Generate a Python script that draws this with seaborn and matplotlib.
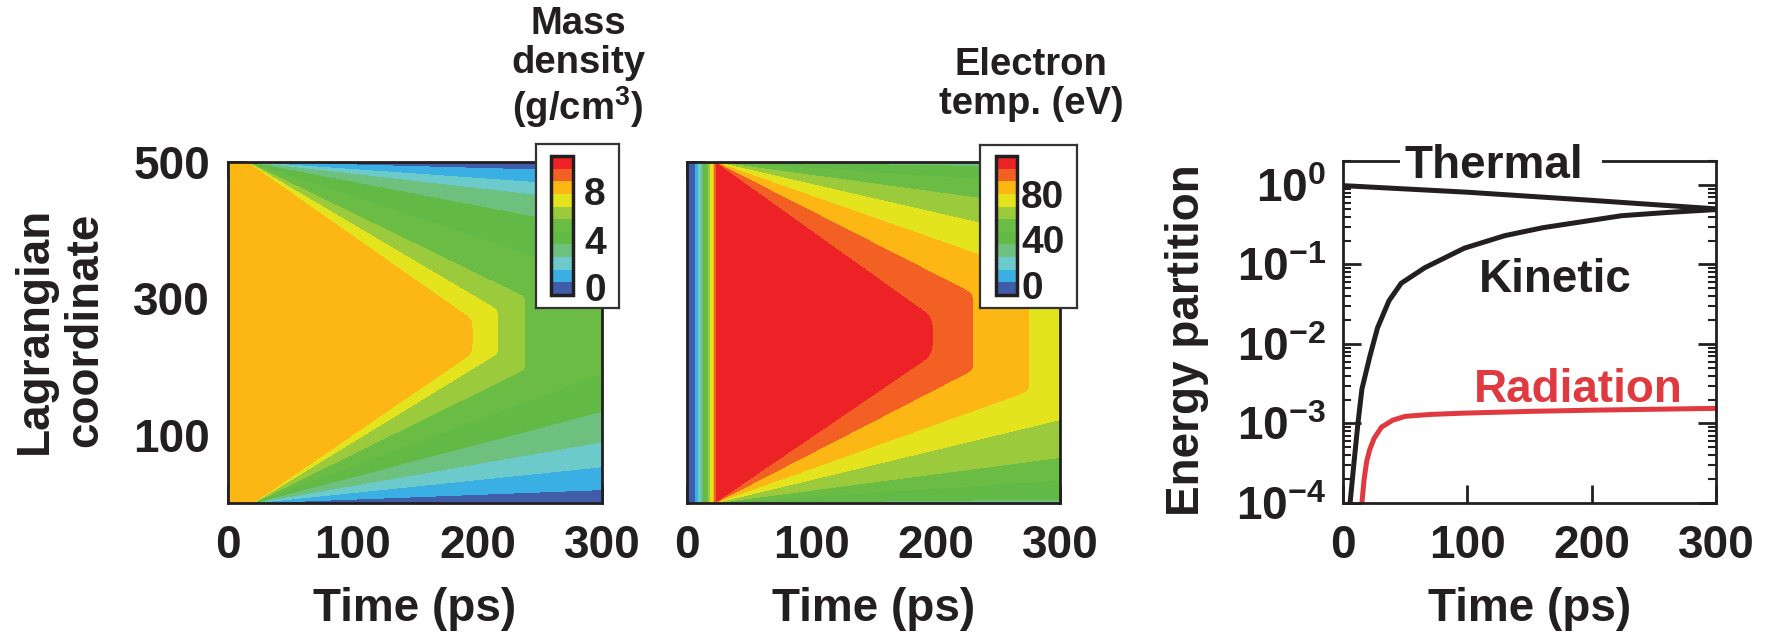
import numpy as np
import pandas as pd
import matplotlib
matplotlib.use("Agg")
import matplotlib.pyplot as plt
from matplotlib.patches import Rectangle
import seaborn as sns
from matplotlib.ticker import LogLocator, NullFormatter

# ---------------- data ----------------
time_ticks = [0, 100, 200, 300]
lagr_ticks = [100, 300, 500]

band_colors = ["#3F5DA9", "#3AAFE3", "#6DCACB", "#6DC07E", "#62B946", "#6ABC45",
               "#9BCA3C", "#E3E41E", "#FDB714", "#F26024", "#EC2227"]

density_levels = [-0.95, 0.6, 1.63, 2.66, 3.66, 4.7, 5.75, 6.8, 7.8, 8.8, 9.8, 10.4]
density_ticks = [0, 4, 8]
temp_levels = [-13, 2.9, 13.7, 24.9, 35.4, 46.9, 58, 69, 80, 90.6, 100.6, 106]
temp_ticks = [0, 40, 80]

# mass density: speed (Lagrangian units / ps) at which each level leaves a surface
density_start_top = 15
density_start_bottom = 20
density_fan_values = [0.0, 0.6, 1.63, 2.66, 3.66, 4.7, 5.75, 6.8, 7.8, 8.3]
density_fan_speed_top = [0, 0.05, 0.13, 0.21, 0.35, 0.6, 0.89, 1.08, 1.28, 1.6]
density_fan_speed_bottom = [0, 0.07, 0.19, 0.32, 0.48, 0.68, 0.9, 1.12, 1.25, 1.6]
density_core_time = [0, 185, 196, 216, 238, 300]
density_core_value = [8.3, 8.3, 7.8, 6.8, 5.75, 5.1]

# electron temperature
temp_start = 22
temp_fan_values = [26, 35.4, 46.9, 58, 69, 80, 90.6, 100.6, 103.5]
temp_fan_speed_top = [0, 0.03, 0.12, 0.25, 0.42, 0.64, 0.93, 1.3, 1.6]
temp_fan_speed_bottom = [0, 0.02, 0.12, 0.24, 0.44, 0.65, 0.94, 1.24, 1.6]
temp_core_time = [0, 188, 198, 230, 275, 300]
temp_core_value = [103.5, 103.5, 100.6, 90.6, 80, 75]
temp_heat_time = [0, 6.4, 9, 12, 13, 15, 17, 18.5, 21, 22.5, 24, 26]
temp_heat_value = [-8, 2.9, 13.7, 24.9, 35.4, 46.9, 58, 69, 80, 90.6, 100.6, 103.5]

# energy partition curves
thermal_t = [0, 100, 200, 300]
thermal_v = [0.98, 0.81, 0.64, 0.50]
kinetic_t = [5.7, 8.9, 12, 15.2, 21.5, 27.8, 37, 46.8, 65.8, 97.5, 130, 160.8, 224, 260, 300]
kinetic_v = [1e-4, 3.3e-4, 1e-3, 2.7e-3, 6.9e-3, 0.016, 0.035, 0.058, 0.091, 0.16,
             0.23, 0.29, 0.41, 0.45, 0.49]
radiation_t = [15.2, 17, 19, 21.5, 25, 31, 40, 50, 70, 97.5, 150, 200, 300]
radiation_v = [1e-4, 2e-4, 3.3e-4, 4.7e-4, 6.5e-4, 9e-4, 1.1e-3, 1.23e-3, 1.3e-3,
               1.35e-3, 1.42e-3, 1.47e-3, 1.55e-3]

# ---------------- style ----------------
sns.set_theme(style="ticks")
INK = "#231F20"
RED = "#E0393F"
plt.rcParams["font.family"] = ["Liberation Sans", "DejaVu Sans"]
plt.rcParams["font.weight"] = "bold"
plt.rcParams["axes.labelweight"] = "bold"
plt.rcParams["text.color"] = INK
plt.rcParams["axes.labelcolor"] = INK
plt.rcParams["xtick.color"] = INK
plt.rcParams["ytick.color"] = INK
plt.rcParams["mathtext.fontset"] = "custom"
plt.rcParams["mathtext.rm"] = "Liberation Sans:bold"
plt.rcParams["mathtext.bf"] = "Liberation Sans:bold"
plt.rcParams["mathtext.default"] = "bf"

W, H = 1770, 635
fig = plt.figure(figsize=(W / 100, H / 100), dpi=100)


def frac(x0, y0, x1, y1):
    return [x0 / W, 1 - y1 / H, (x1 - x0) / W, (y1 - y0) / H]


# ---------------- fields ----------------
t = np.linspace(0, 300, 601)
m = np.linspace(0, 500, 501)
TT, MM = np.meshgrid(t, m)


def fan(dist, t0, speeds, values):
    dt = TT - t0
    s = np.where(dt > 0, dist / np.where(dt > 0, dt, 1.0), 1e9)
    return np.interp(s, speeds, values)


def softmin(arrs, k):
    st = np.stack(arrs)
    vmin = st.min(axis=0)
    return vmin - k * np.log(np.exp(-(st - vmin) / k).sum(axis=0))


rho = softmin([fan(500 - MM, density_start_top, density_fan_speed_top, density_fan_values),
               fan(MM, density_start_bottom, density_fan_speed_bottom, density_fan_values),
               np.interp(TT, density_core_time, density_core_value)], 0.06)
temp = softmin([fan(500 - MM, temp_start, temp_fan_speed_top, temp_fan_values),
                fan(MM, temp_start, temp_fan_speed_bottom, temp_fan_values),
                np.interp(TT, temp_core_time, temp_core_value),
                np.interp(TT, temp_heat_time, temp_heat_value)], 0.6)

FS = 33


def style_map(ax, left_labels=True):
    ax.set_xlim(0, 300)
    ax.set_ylim(0, 500)
    ax.set_xticks(time_ticks)
    ax.set_yticks(lagr_ticks)
    ax.tick_params(direction="in", length=13, width=2, top=True, right=True,
                   labelsize=FS, pad=13, labelleft=left_labels, colors=INK)
    ax.tick_params(axis="x", pad=15)
    for sp in ax.spines.values():
        sp.set_linewidth(2)
        sp.set_color(INK)
    ax.set_xlabel("Time (ps)", fontsize=FS)
    ax.xaxis.label.set_va("center")
    ax.xaxis.set_label_coords(0.5, -0.31)


ax1 = fig.add_axes(frac(228, 162, 602, 503))
cs1 = ax1.contourf(TT, MM, rho, levels=density_levels, colors=band_colors)
style_map(ax1)
ax1.set_ylabel("Lagrangian\ncoordinate", fontsize=FS, linespacing=1.2)
ax1.yaxis.label.set_rotation_mode("default")
ax1.yaxis.label.set_va("center")
ax1.yaxis.set_label_coords((60 - 228) / 374, (503 - 330) / 341)

ax2 = fig.add_axes(frac(687, 162, 1060, 503))
cs2 = ax2.contourf(TT, MM, temp, levels=temp_levels, colors=band_colors)
style_map(ax2, left_labels=False)

# ---------------- energy partition ----------------
ax3 = fig.add_axes(frac(1343, 161, 1716, 503))
ax3.set_yscale("log")
sns.lineplot(x=thermal_t, y=thermal_v, ax=ax3, color=INK, lw=3.6, estimator=None, sort=False)
sns.lineplot(x=kinetic_t, y=kinetic_v, ax=ax3, color=INK, lw=3.6, estimator=None, sort=False)
sns.lineplot(x=radiation_t, y=radiation_v, ax=ax3, color=RED, lw=3.6,
             estimator=None, sort=False)
ax3.set_xlim(0, 300)
ax3.set_ylim(1e-4, 2.0)
ax3.set_xticks(time_ticks)
ax3.yaxis.set_major_locator(LogLocator(base=10, numticks=10))
ax3.yaxis.set_minor_locator(LogLocator(base=10, subs=np.arange(2, 10), numticks=20))
ax3.yaxis.set_minor_formatter(NullFormatter())
ax3.tick_params(axis="both", which="major", direction="in", length=13, width=2,
                labelsize=FS, colors=INK)
ax3.tick_params(axis="y", which="both", left=True, right=True, direction="in", pad=12)
ax3.tick_params(axis="y", which="minor", length=6, width=1.5)
ax3.tick_params(axis="x", top=False, pad=15)
for sp in ax3.spines.values():
    sp.set_linewidth(2)
    sp.set_color(INK)
ax3.set_xlabel("Time (ps)", fontsize=FS)
ax3.xaxis.label.set_va("center")
ax3.xaxis.set_label_coords(0.5, -0.31)
ax3.set_ylabel("Energy partition", fontsize=FS)
ax3.yaxis.label.set_rotation_mode("default")
ax3.yaxis.label.set_va("center")
ax3.yaxis.set_label_coords((1187 - 1343) / 373, (503 - 340) / 342)

# gap in the top frame where the "Thermal" label sits
ax3.add_patch(Rectangle((0.153, 0.99), 0.541, 0.02, transform=ax3.transAxes,
                        facecolor="white", edgecolor="none", clip_on=False, zorder=4))
ax3.text(121.4, 0.95, "Thermal", transform=ax3.get_xaxis_transform(), ha="center",
         va="baseline", fontsize=FS, fontweight="bold", color=INK, zorder=5)
ax3.text(170.5, 0.0447, "Kinetic", ha="center", va="baseline", fontsize=FS,
         fontweight="bold", color=INK)
ax3.text(189, 1.84e-3, "Radiation", ha="center", va="baseline", fontsize=FS,
         fontweight="bold", color=RED)

# ---------------- colorbars in boxes ----------------
def boxed_colorbar(cs, box, bar, ticks, pad):
    bax = fig.add_axes(frac(*box))
    bax.set_xticks([])
    bax.set_yticks([])
    bax.set_facecolor("white")
    for sp in bax.spines.values():
        sp.set_linewidth(1.6)
        sp.set_color("#333333")
    cax = fig.add_axes(frac(*bar))
    cb = fig.colorbar(cs, cax=cax, ticks=ticks)
    cb.outline.set_linewidth(2.5)
    cb.outline.set_edgecolor(INK)
    cax.tick_params(length=0, labelsize=28, pad=pad, colors=INK)
    return cb


boxed_colorbar(cs1, (536, 144, 619, 308), (551, 156, 573, 295), density_ticks, 8)
boxed_colorbar(cs2, (980, 145, 1077, 308), (996, 156, 1017, 295), temp_ticks, 3)

fig.text(578 / W, 1 - 6 / H, "Mass\ndensity\n(g/cm$^{3}$)", ha="center", va="top",
         fontsize=27.5, fontweight="bold", linespacing=1.1)
fig.text(1031 / W, 1 - 47 / H, "Electron\ntemp. (eV)", ha="center", va="top",
         fontsize=27.5, fontweight="bold", linespacing=1.1)

fig.savefig("out.png", dpi=100)
